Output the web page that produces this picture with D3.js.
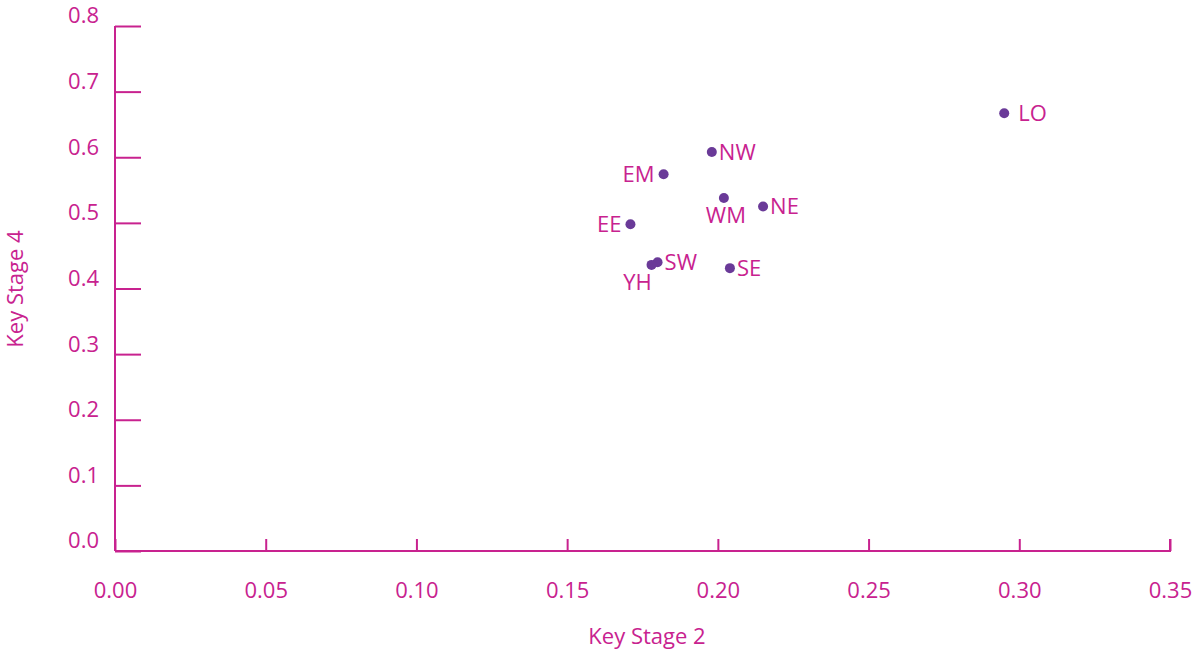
<!DOCTYPE html>
<html>
<head>
<meta charset="utf-8">
<script src="https://d3js.org/d3.v7.min.js"></script>
<style>
  body { margin: 0; background: #fff; }
  text { font-family: "Open Sans", sans-serif; fill: #C8228F; }
</style>
</head>
<body>
<div id="chart"></div>
<script>
// region codes and their values
const regions = ["LO", "NW", "EM", "WM", "NE", "EE", "SW", "YH", "SE"];
const ks2 = [0.295, 0.198, 0.182, 0.202, 0.215, 0.171, 0.180, 0.178, 0.204];
const ks4 = [0.667, 0.608, 0.574, 0.538, 0.525, 0.498, 0.440, 0.436, 0.431];
// where each label sits relative to its dot
const labelPos = ["farright", "right", "left", "below", "right", "left", "right", "belowleft", "right"];
const xTicks = [0, 0.05, 0.10, 0.15, 0.20, 0.25, 0.30, 0.35];
const yTicks = [0, 0.1, 0.2, 0.3, 0.4, 0.5, 0.6, 0.7, 0.8];

const width = 1193, height = 650;
const col = "#C8228F";

const svg = d3.select("#chart").append("svg")
    .attr("width", width)
    .attr("height", height);

const x = d3.scaleLinear().domain([0, 0.35]).range([115, 1170]);
const y = d3.scaleLinear().domain([0, 0.8]).range([551, 26]);

// y axis, ticks pointing inward
const yAxis = svg.append("g")
    .attr("transform", `translate(${x(0)},0)`)
    .call(d3.axisRight(y).tickValues(yTicks).tickSize(26).tickFormat(d3.format(".1f")));
yAxis.select(".domain").attr("stroke", col).attr("stroke-width", 2).attr("d", `M0,${y(0.8)}V${y(0)}`);
yAxis.selectAll(".tick line").attr("stroke", col).attr("stroke-width", 2);
yAxis.selectAll(".tick text")
    .attr("x", -16).attr("dy", "-0.14em")
    .attr("text-anchor", "end")
    .style("font-size", "22px");

// x axis, ticks pointing up
const xAxis = svg.append("g")
    .attr("transform", `translate(0,${y(0)})`)
    .call(d3.axisTop(x).tickValues(xTicks).tickSize(12).tickFormat(d3.format(".2f")));
xAxis.select(".domain").attr("stroke", col).attr("stroke-width", 2).attr("d", `M${x(0)},0H${x(0.35)}V-12`);
xAxis.selectAll(".tick line").attr("stroke", col).attr("stroke-width", 2);
xAxis.selectAll(".tick text")
    .attr("y", 47).attr("dy", 0)
    .style("font-size", "22px");

// axis titles
svg.append("text")
    .attr("x", 647).attr("y", 644)
    .attr("text-anchor", "middle")
    .style("font-size", "22px")
    .text("Key Stage 2");
svg.append("text")
    .attr("transform", `translate(23,289) rotate(-90)`)
    .attr("text-anchor", "middle")
    .style("font-size", "22px")
    .text("Key Stage 4");

// dots
const pts = regions.map((r, i) => ({ r, x: ks2[i], y: ks4[i], pos: labelPos[i] }));

svg.append("g")
  .selectAll("circle")
  .data(pts)
  .join("circle")
    .attr("cx", d => x(d.x))
    .attr("cy", d => y(d.y))
    .attr("r", 5)
    .attr("fill", "#6A3A98");

svg.append("g")
  .selectAll("text")
  .data(pts)
  .join("text")
    .style("font-size", "22px")
    .attr("x", d => {
      const cx = x(d.x);
      if (d.pos === "farright") return cx + 14;
      if (d.pos === "right") return cx + 7;
      if (d.pos === "left") return cx - 9;
      if (d.pos === "belowleft") return cx - 14;
      return cx + 2;
    })
    .attr("y", d => {
      const cy = y(d.y);
      if (d.pos === "below" || d.pos === "belowleft") return cy + 25;
      return cy + 8;
    })
    .attr("text-anchor", d => d.pos.endsWith("right") ? "start" : d.pos === "left" ? "end" : "middle")
    .text(d => d.r);
</script>
</body>
</html>
